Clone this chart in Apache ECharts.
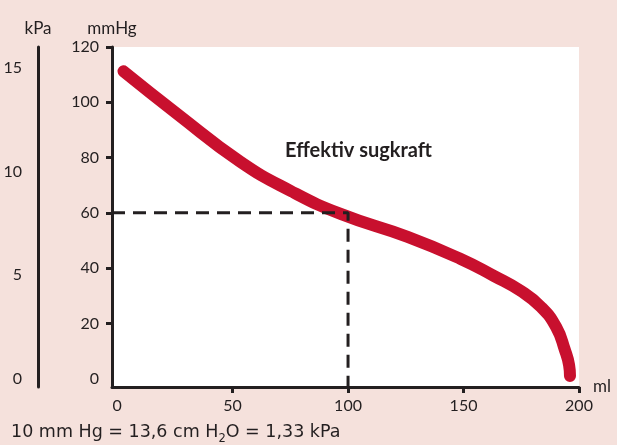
<!DOCTYPE html>
<html>
<head>
<meta charset="utf-8">
<script src="https://cdn.jsdelivr.net/npm/echarts@6/dist/echarts.min.js"></script>
<style>
  html, body { margin: 0; padding: 0; background: #f5e1dc; }
  #chart { width: 617px; height: 445px; }
</style>
</head>
<body>
<div id="chart"></div>
<script>
// kurvan: volym (ml) mot tryck (mmHg)
const volumeMl = [2.8, 26.2, 53.5, 75.2, 96.8, 125.8, 148.8, 163.1, 174.9, 183.6, 190.1, 193.9, 195.7, 196.1];
const pressureMmHg = [111.2, 95.7, 78.4, 67.9, 59.6, 51.3, 43.3, 37.2, 31.7, 25.9, 18.7, 10.4, 5.0, 1.0];

const xTicks = [0, 50, 100, 150, 200];
const mmHgTicks = [0, 20, 40, 60, 80, 100, 120];
const kPaTicks = [0, 5, 10, 15];
const KPA_PER_MMHG = 0.13332;

// streckad referens vid 100 ml / 60 mmHg
const refMl = 100;
const refMmHg = 60;

const X_MIN = -2.2, X_MAX = 200;
const Y_MIN = -3, Y_MAX = 120;

const AXIS = '#231f20';
const RED = '#c8102e';
const FONT = 'Lato';

const chart = echarts.init(document.getElementById('chart'));

const option = {
  backgroundColor: '#f5e1dc',
  animation: false,
  textStyle: { fontFamily: FONT },
  grid: {
    left: 112, right: 38, top: 47, bottom: 58,
    show: true, backgroundColor: '#ffffff', borderWidth: 0,
  },
  xAxis: {
    type: 'value',
    min: X_MIN, max: X_MAX,
    name: 'ml',
    nameLocation: 'end',
    nameGap: 14,
    nameTextStyle: { fontSize: 17, color: AXIS, fontFamily: FONT, padding: [4, 0, 0, 0] },
    axisLine: { show: true, onZero: false, lineStyle: { color: AXIS, width: 3 } },
    axisTick: { show: true, customValues: xTicks.slice(1), length: 6, lineStyle: { color: AXIS, width: 3 } },
    axisLabel: { customValues: xTicks, margin: 11, fontSize: 16, color: AXIS, fontFamily: FONT },
    splitLine: { show: false },
  },
  yAxis: [
    {
      type: 'value',
      min: Y_MIN, max: Y_MAX,
      name: 'mmHg',
      nameLocation: 'end',
      nameGap: 10,
      nameTextStyle: { fontSize: 17, color: AXIS, fontFamily: FONT, align: 'center' },
      axisLine: { show: true, onZero: false, lineStyle: { color: AXIS, width: 3 } },
      axisTick: { show: true, customValues: mmHgTicks.slice(1), length: 6, lineStyle: { color: AXIS, width: 3 } },
      axisLabel: { customValues: mmHgTicks, margin: 13, fontSize: 16, color: AXIS, fontFamily: FONT },
      splitLine: { show: false },
    },
    {
      type: 'value',
      position: 'left',
      offset: 74,
      min: Y_MIN * KPA_PER_MMHG, max: Y_MAX * KPA_PER_MMHG,
      name: 'kPa',
      nameLocation: 'end',
      nameGap: 10,
      nameTextStyle: { fontSize: 17, color: AXIS, fontFamily: FONT, align: 'center' },
      axisLine: { show: true, onZero: false, lineStyle: { color: AXIS, width: 3 } },
      axisTick: { show: false },
      axisLabel: { customValues: kPaTicks, margin: 16, fontSize: 16, color: AXIS, fontFamily: FONT },
      splitLine: { show: false },
    },
  ],
  series: [
    {
      name: 'Effektiv sugkraft',
      type: 'line',
      data: volumeMl.map((v, i) => [v, pressureMmHg[i]]),
      smooth: 0.5,
      showSymbol: false,
      lineStyle: { color: RED, width: 12, cap: 'round', join: 'round' },
      z: 2,
    },
    {
      name: 'ref',
      type: 'line',
      data: [[X_MIN, refMmHg], [refMl, refMmHg], [refMl, Y_MIN]],
      showSymbol: false,
      lineStyle: { color: AXIS, width: 3, type: [13, 8] },
      z: 3,
    },
  ],
  graphic: [
    {
      type: 'text',
      left: 285, top: 141,
      style: {
        text: 'Effektiv sugkraft',
        fontSize: 20, fontWeight: 'bold', fill: AXIS, fontFamily: FONT,
      },
    },
    {
      type: 'text',
      left: 11, top: 423,
      style: {
        text: '{n|10 mm Hg = 13,6 cm H}{s|2}{n|O = 1,33 kPa}',
        fontFamily: 'DejaVu Sans',
        rich: {
          n: { fontSize: 17.5, fill: AXIS, fontFamily: 'DejaVu Sans', verticalAlign: 'bottom', lineHeight: 20 },
          s: { fontSize: 11.5, fill: AXIS, fontFamily: 'DejaVu Sans', verticalAlign: 'bottom', lineHeight: 14, padding: [0, 0, -4, 0] },
        },
      },
    },
  ],
};

chart.setOption(option);
</script>
</body>
</html>
